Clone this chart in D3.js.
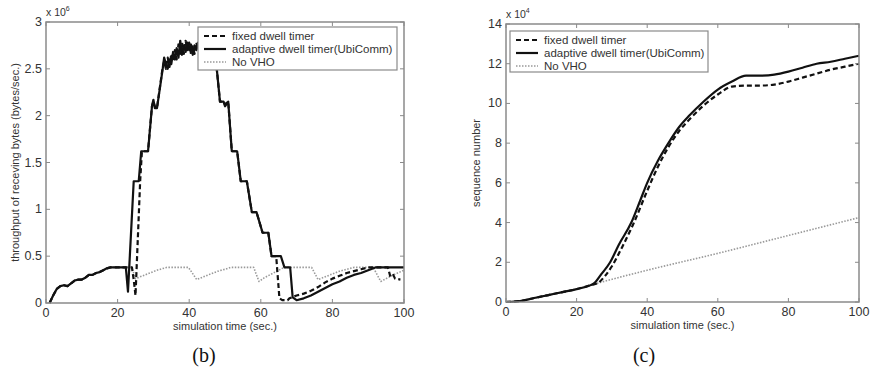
<!DOCTYPE html>
<html>
<head>
<meta charset="utf-8">
<script src="https://cdn.jsdelivr.net/npm/d3@7"></script>
<style>
  body { margin: 0; background: #fff; }
  svg text { font-family: "Liberation Sans", Arial, sans-serif; fill: #333; }
</style>
</head>
<body>
<svg id="chart" width="871" height="374"></svg>
<script>
const seriesNames = ['fixed dwell timer', 'adaptive dwell timer(UbiComm)', 'No VHO'];

// ---- chart (b): throughput, units of 1e6 bytes/sec ----
const bAdaptive = [
  [1, 0], [2, 0.08], [3, 0.15], [4, 0.18], [5, 0.19], [6, 0.18], [7, 0.21], [8, 0.24], [9, 0.25],
  [10, 0.25], [11, 0.27], [12, 0.3], [13, 0.3], [14, 0.32], [15, 0.33], [16, 0.35], [17, 0.37],
  [18, 0.38], [22.3, 0.38], [22.9, 0.12], [24.5, 1.3], [25.9, 1.3], [26.6, 1.62], [28.5, 1.62],
  [29.6, 2.1], [30, 2.17], [30.4, 2.08], [31, 2.08], [32.6, 2.5], [33, 2.62], [33.5, 2.55],
  [34, 2.5], [34.5, 2.6], [35, 2.55], [35.5, 2.68], [36, 2.6], [36.5, 2.72], [37, 2.62],
  [37.5, 2.8], [38, 2.65], [38.5, 2.75], [39, 2.68], [39.5, 2.78], [40, 2.7], [40.5, 2.76],
  [41, 2.65], [41.5, 2.75], [42, 2.7], [42.5, 2.78], [43, 2.68], [43.5, 2.72], [44, 2.65],
  [44.5, 2.75], [45, 2.7], [45.5, 2.78], [46, 2.72], [46.5, 2.6], [47, 2.55], [47.7, 2.5],
  [48.6, 2.15], [49.6, 2.15], [50, 2.1], [50.9, 2.15], [51.9, 1.62], [53.4, 1.62], [54.4, 1.3],
  [56.1, 1.3], [57.5, 0.97], [58.8, 0.97], [60.5, 0.75], [62.1, 0.75], [63, 0.5], [65.6, 0.5],
  [66.6, 0.38], [68.2, 0.38], [68.9, 0.06], [70, 0.03], [72, 0.05], [74, 0.08], [76, 0.12],
  [78, 0.16], [80, 0.2], [82, 0.23], [84, 0.27], [86, 0.3], [88, 0.32], [90, 0.35], [92, 0.38],
  [100, 0.38]
];

const bFixed = [
  [1, 0], [2, 0.08], [3, 0.15], [4, 0.18], [5, 0.19], [6, 0.18], [7, 0.21], [8, 0.24], [9, 0.25],
  [10, 0.25], [11, 0.27], [12, 0.3], [13, 0.3], [14, 0.32], [15, 0.33], [16, 0.35], [17, 0.37],
  [18, 0.38], [24, 0.38], [24.5, 0.25], [25, 0.08], [26.3, 1.3], [26.8, 1.62], [28.5, 1.62],
  [29.6, 2.1], [30, 2.15], [30.4, 2.1], [31, 2.08], [32.6, 2.52], [33, 2.58], [33.5, 2.5],
  [34, 2.62], [34.5, 2.52], [35, 2.66], [35.5, 2.58], [36, 2.7], [36.5, 2.6], [37, 2.76],
  [37.5, 2.66], [38, 2.78], [38.5, 2.66], [39, 2.8], [39.5, 2.7], [40, 2.78], [40.5, 2.66],
  [41, 2.74], [41.5, 2.66], [42, 2.78], [42.5, 2.7], [43, 2.76], [43.5, 2.66], [44, 2.74],
  [44.5, 2.68], [45, 2.78], [45.5, 2.7], [46, 2.66], [46.5, 2.62], [47, 2.55], [47.7, 2.5],
  [48.6, 2.15], [49.6, 2.15], [50, 2.12], [50.9, 2.15], [51.9, 1.62], [53.4, 1.62], [54.4, 1.3],
  [56.1, 1.3], [57.5, 0.97], [58.8, 0.97], [60.5, 0.75], [62.1, 0.75], [63, 0.5], [64.3, 0.5],
  [65.2, 0.05], [66, 0.03], [67.5, 0.03], [68, 0.05], [70, 0.08], [72, 0.1], [74, 0.13],
  [76, 0.17], [78, 0.22], [80, 0.26], [82, 0.29], [84, 0.32], [86, 0.34], [88, 0.36],
  [90, 0.38], [95.5, 0.38], [96.2, 0.28], [97, 0.3], [97.5, 0.26], [99, 0.25]
];

const bNoVho = [
  [1, 0], [2, 0.08], [3, 0.15], [4, 0.18], [5, 0.19], [6, 0.18], [7, 0.21], [8, 0.24], [9, 0.25],
  [10, 0.25], [11, 0.27], [12, 0.3], [13, 0.3], [14, 0.32], [15, 0.33], [16, 0.35], [17, 0.37],
  [18, 0.38], [24, 0.38], [25, 0.26], [27, 0.29], [29, 0.32], [31, 0.35], [33.7, 0.38],
  [39.8, 0.38], [42.1, 0.25], [44, 0.28], [46, 0.31], [48, 0.34], [50, 0.36], [51.5, 0.38],
  [58, 0.38], [59.5, 0.23], [61, 0.27], [63, 0.31], [65, 0.35], [66.5, 0.38], [74.2, 0.38],
  [76, 0.25], [78, 0.28], [80, 0.31], [82, 0.34], [84, 0.36], [86, 0.38], [91.4, 0.38],
  [93.5, 0.23], [95, 0.26], [97, 0.3], [100, 0.35]
];

// ---- chart (c): sequence number, units of 1e4 ----
const cAdaptive = [
  [0, 0], [4, 0.05], [8, 0.2], [12, 0.35], [16, 0.5], [20, 0.65], [24, 0.85], [25, 0.95],
  [27, 1.4], [29.5, 2], [32, 2.9], [35.5, 4], [38, 5.1], [40, 6], [43, 7.1], [46, 8],
  [49, 8.8], [52, 9.4], [56, 10.1], [60, 10.7], [64, 11.1], [68, 11.4], [72, 11.4],
  [76, 11.45], [80, 11.6], [84, 11.8], [88, 12.0], [92, 12.1], [96, 12.25], [100, 12.4]
];

const cFixed = [
  [0, 0], [4, 0.05], [8, 0.2], [12, 0.35], [16, 0.5], [20, 0.65], [24, 0.85], [26, 0.95],
  [28, 1.3], [30, 1.8], [33, 2.8], [36, 3.9], [40, 5.6], [43, 6.8], [46, 7.8], [49, 8.6],
  [52, 9.2], [56, 9.9], [60, 10.45], [64, 10.85], [68, 10.9], [72, 10.9], [76, 10.95],
  [80, 11.1], [84, 11.3], [88, 11.5], [92, 11.7], [96, 11.85], [100, 12.0]
];

const cNoVho = [
  [0, 0], [4, 0.05], [8, 0.2], [12, 0.35], [16, 0.5], [20, 0.65], [24, 0.85], [25, 0.9],
  [40, 1.6], [60, 2.45], [80, 3.35], [100, 4.25]
];

const xTicks = [0, 20, 40, 60, 80, 100];
const bYTicks = [0, 0.5, 1, 1.5, 2, 2.5, 3];
const cYTicks = [0, 2, 4, 6, 8, 10, 12, 14];

const svg = d3.select('#chart');

// fixed, adaptive, no VHO
const styles = [
  { color: '#111', width: 2.2, dash: '5,3' },
  { color: '#111', width: 2.2, dash: null },
  { color: '#999', width: 1.6, dash: '1.5,1.5' }
];

function drawPanel(opt) {
  const x = d3.scaleLinear().domain([0, 100]).range([opt.left, opt.right]);
  const y = d3.scaleLinear().domain(opt.yDomain).range([opt.bottom, opt.top]);
  const g = svg.append('g');

  const line = d3.line().x(d => x(d[0])).y(d => y(d[1])).curve(opt.curve);
  const sets = [opt.fixed, opt.adaptive, opt.novho];
  [2, 0, 1].forEach(i => {
    g.append('path')
      .attr('d', line(sets[i]))
      .attr('fill', 'none')
      .attr('stroke', styles[i].color)
      .attr('stroke-width', styles[i].width)
      .attr('stroke-dasharray', styles[i].dash)
      .attr('stroke-linejoin', 'round');
  });

  // box + inward ticks
  const axisColor = '#8a8a8a';
  g.append('rect')
    .attr('x', opt.left).attr('y', opt.top)
    .attr('width', opt.right - opt.left).attr('height', opt.bottom - opt.top)
    .attr('fill', 'none').attr('stroke', axisColor).attr('stroke-width', 1.5);

  const tl = 4;
  xTicks.forEach(t => {
    g.append('line').attr('x1', x(t)).attr('x2', x(t)).attr('y1', opt.bottom).attr('y2', opt.bottom - tl)
      .attr('stroke', axisColor);
    g.append('line').attr('x1', x(t)).attr('x2', x(t)).attr('y1', opt.top).attr('y2', opt.top + tl)
      .attr('stroke', axisColor);
    g.append('text').attr('x', x(t)).attr('y', opt.bottom + 14)
      .attr('text-anchor', 'middle').style('font-size', '12.5px').text(t);
  });
  opt.yTicks.forEach(t => {
    g.append('line').attr('x1', opt.left).attr('x2', opt.left + tl).attr('y1', y(t)).attr('y2', y(t))
      .attr('stroke', axisColor);
    g.append('line').attr('x1', opt.right).attr('x2', opt.right - tl).attr('y1', y(t)).attr('y2', y(t))
      .attr('stroke', axisColor);
    g.append('text').attr('x', opt.left - 4).attr('y', y(t) + 4)
      .attr('text-anchor', 'end').style('font-size', '12.5px').text(t);
  });

  // exponent
  const ex = g.append('text').attr('x', opt.left).attr('y', opt.top - 6).style('font-size', '10.5px');
  ex.append('tspan').text('x 10');
  ex.append('tspan').attr('dy', -5).style('font-size', '7px').text(opt.exp);

  // axis labels
  g.append('text').attr('x', (opt.left + opt.right) / 2).attr('y', opt.bottom + 27)
    .attr('text-anchor', 'middle').style('font-size', '11px').text('simulation time (sec.)');
  g.append('text')
    .attr('transform', `translate(${opt.yLabelX},${(opt.top + opt.bottom) / 2}) rotate(-90)`)
    .attr('text-anchor', 'middle').style('font-size', '11px').text(opt.yLabel);

  // caption
  g.append('text').attr('x', opt.captionX).attr('y', 362)
    .attr('text-anchor', 'middle')
    .style('font-family', '"Liberation Serif", "Times New Roman", serif')
    .style('font-size', '20px').style('fill', '#111').text(opt.caption);

  // legend
  const lg = g.append('g');
  lg.append('rect')
    .attr('x', opt.legend.x).attr('y', opt.legend.y)
    .attr('width', opt.legend.w).attr('height', opt.legend.h)
    .attr('fill', '#fff').attr('stroke', axisColor).attr('stroke-width', 1.2);
  seriesNames.forEach((name, i) => {
    const yy = opt.legend.y + 9 + i * 13;
    lg.append('line')
      .attr('x1', opt.legend.x + 6).attr('x2', opt.legend.x + 28)
      .attr('y1', yy).attr('y2', yy)
      .attr('stroke', styles[i].color)
      .attr('stroke-width', styles[i].width)
      .attr('stroke-dasharray', styles[i].dash);
    lg.append('text').attr('x', opt.legend.x + 34).attr('y', yy + 4)
      .style('font-size', '11.5px').text(name);
  });
}

drawPanel({
  left: 46, right: 404, top: 22, bottom: 303,
  yDomain: [0, 3], yTicks: bYTicks, exp: '6',
  fixed: bFixed, adaptive: bAdaptive, novho: bNoVho,
  curve: d3.curveLinear,
  yLabel: 'throughput of receving bytes (bytes/sec.)', yLabelX: 19,
  caption: '(b)', captionX: 204,
  legend: { x: 198, y: 27, w: 199, h: 43 }
});

drawPanel({
  left: 506, right: 859, top: 24, bottom: 302,
  yDomain: [0, 14], yTicks: cYTicks, exp: '4',
  fixed: cFixed, adaptive: cAdaptive, novho: cNoVho,
  curve: d3.curveMonotoneX,
  yLabel: 'sequence number', yLabelX: 480,
  caption: '(c)', captionX: 644,
  legend: { x: 510, y: 31, w: 198, h: 41 }
});
</script>
</body>
</html>
